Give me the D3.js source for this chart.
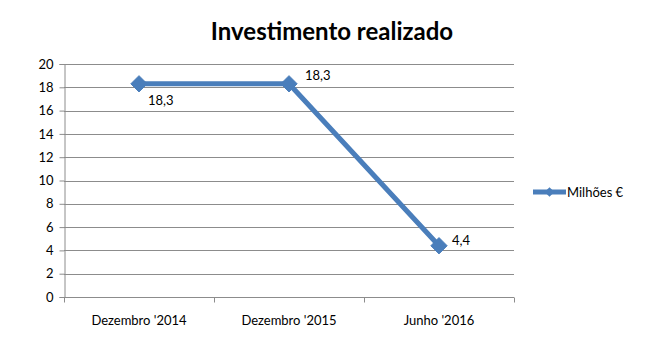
<!DOCTYPE html>
<html>
<head>
<meta charset="utf-8">
<script src="https://cdn.jsdelivr.net/npm/d3@7"></script>
<style>
  html, body { margin: 0; padding: 0; background: #fff; }
  svg { display: block; font-family: Lato, "Open Sans", "Liberation Sans", sans-serif; }
</style>
</head>
<body>
<svg id="chart" width="650" height="347"></svg>
<script>
const categories = ["Dezembro '2014", "Dezembro '2015", "Junho '2016"];
const values = [18.3, 18.3, 4.4];
const valueLabels = ["18,3", "18,3", "4,4"];
const yTicks = [0, 2, 4, 6, 8, 10, 12, 14, 16, 18, 20];
const seriesName = "Milhões €";
const title = "Investimento realizado";

const svg = d3.select("#chart");
const margin = { left: 64, right: 136, top: 64, bottom: 50 };
const W = 650, H = 347;
const color = "#4a7ebb";
const gridColor = "#8c8c8c";

const x = d3.scaleBand().domain(categories).range([margin.left, W - margin.right]);
const y = d3.scaleLinear().domain([0, 20]).range([H - margin.bottom, margin.top]);

// title
svg.append("text")
  .attr("x", 332).attr("y", 40)
  .attr("text-anchor", "middle")
  .attr("font-size", 24).attr("font-weight", "bold")
  .attr("fill", "#000")
  .text(title);

// horizontal gridlines
svg.append("g").selectAll("line").data(yTicks.slice(1)).join("line")
  .attr("x1", margin.left).attr("x2", W - margin.right)
  .attr("y1", d => Math.round(y(d)) + 0.5).attr("y2", d => Math.round(y(d)) + 0.5)
  .attr("stroke", gridColor).attr("stroke-width", 1);

// y axis
const yAxis = svg.append("g")
  .attr("transform", `translate(${margin.left + 0.5},0)`)
  .call(d3.axisLeft(y).tickValues(yTicks).tickSize(5).tickPadding(6));
yAxis.selectAll("path, line").attr("stroke", gridColor);
yAxis.selectAll("text").attr("font-size", 13).attr("fill", "#000")
  .attr("font-family", "Lato, 'Open Sans', sans-serif");

// x axis with tick marks at band edges
const xAxisG = svg.append("g").attr("transform", `translate(0,${Math.round(y(0)) + 0.5})`);
xAxisG.append("line")
  .attr("x1", margin.left).attr("x2", W - margin.right)
  .attr("stroke", gridColor);
const edges = categories.map(c => x(c)).concat([x(categories[categories.length - 1]) + x.bandwidth()]);
xAxisG.selectAll("line.tick").data(edges).join("line")
  .attr("class", "tick")
  .attr("x1", d => Math.round(d) + 0.5).attr("x2", d => Math.round(d) + 0.5)
  .attr("y1", 0).attr("y2", 5)
  .attr("stroke", gridColor);
xAxisG.selectAll("text").data(categories).join("text")
  .attr("x", d => x(d) + x.bandwidth() / 2)
  .attr("y", 27)
  .attr("text-anchor", "middle")
  .attr("font-size", 13).attr("fill", "#000")
  .text(d => d);

// series line
const pts = categories.map((c, i) => [x(c) + x.bandwidth() / 2, y(values[i])]);
svg.append("path")
  .attr("d", d3.line()(pts))
  .attr("fill", "none")
  .attr("stroke", color)
  .attr("stroke-width", 5)
  .attr("stroke-linejoin", "round");

// diamond markers
const diamond = d3.symbol().type(d3.symbolDiamond2).size(170);
svg.append("g").selectAll("path").data(pts).join("path")
  .attr("d", diamond)
  .attr("transform", d => `translate(${d[0]},${d[1]})`)
  .attr("fill", color)
  .attr("stroke", color).attr("stroke-width", 1);

// data labels
const labelOffsets = [[9, 21], [16, -4], [13, -1]];
svg.append("g").selectAll("text").data(pts).join("text")
  .attr("x", (d, i) => d[0] + labelOffsets[i][0])
  .attr("y", (d, i) => d[1] + labelOffsets[i][1])
  .attr("font-size", 13).attr("fill", "#000")
  .text((d, i) => valueLabels[i]);

// legend
const lg = svg.append("g").attr("transform", "translate(533,192)");
lg.append("line").attr("x1", 0).attr("x2", 33).attr("y1", 0).attr("y2", 0)
  .attr("stroke", color).attr("stroke-width", 5);
lg.append("path").attr("d", d3.symbol().type(d3.symbolDiamond2).size(60))
  .attr("transform", "translate(16.5,0)").attr("fill", color);
lg.append("text").attr("x", 34).attr("y", 5)
  .attr("font-size", 13).attr("fill", "#000").text(seriesName);
</script>
</body>
</html>
